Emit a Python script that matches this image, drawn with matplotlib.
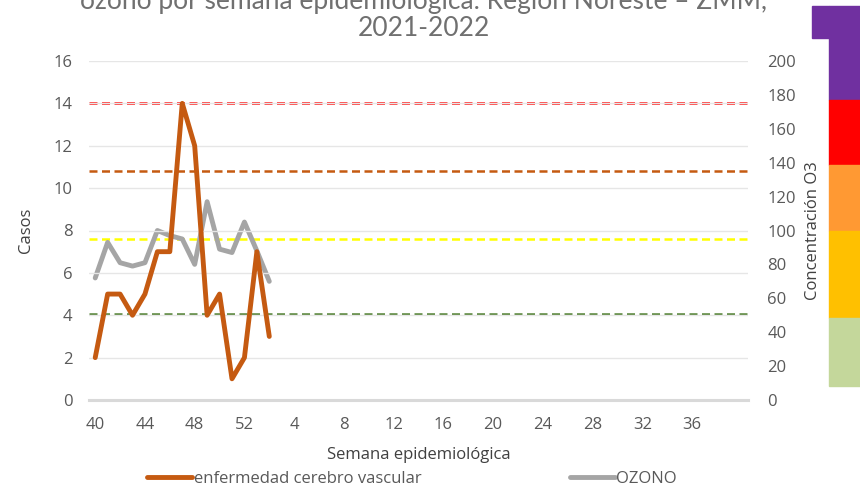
import matplotlib.pyplot as plt
from matplotlib.patches import Rectangle

# semanas epidemiologicas 40-52 de 2021 y 1-40 de 2022
semanas = list(range(40, 53)) + list(range(1, 41))
casos = [2, 5, 5, 4, 5, 7, 7, 14, 12, 4, 5, 1, 2, 7, 3]
ozono = [72, 93, 81, 79, 81, 100, 97, 95, 80, 117, 89, 87, 105, 88, 70]

# limites de calidad del aire (O3)
limites = [51, 95, 135, 175]
colores_lim = ['#548235', '#FFFF00', '#C55A11', '#FF0000']

# barra de colores a la derecha (arriba -> abajo)
barra_colores = ['#7030A0', '#FF0000', '#FF9933', '#FFC000', '#C4D79B']
barra_y = [6, 100, 165, 231, 318, 386]

plt.rcParams['font.family'] = ['Open Sans', 'DejaVu Sans']
gris = '#595959'

fig = plt.figure(figsize=(8.6, 4.91), dpi=100)
W, H = 860, 491

ax = fig.add_axes([89 / W, 1 - 400 / H, (748 - 89) / W, (400 - 61) / H])
ax2 = ax.twinx()

x = list(range(len(semanas)))
ax2.plot(x[:len(ozono)], ozono, color='#A5A5A5', lw=3.5, solid_joinstyle='round',
         solid_capstyle='round', label='OZONO', zorder=3)
for v, c in zip(limites, colores_lim):
    ax2.axhline(v, color=c, lw=1.8, ls=(0, (3.2, 1.8)), zorder=2)
ax.plot(x[:len(casos)], casos, color='#C55A11', lw=3.5, solid_joinstyle='round',
        solid_capstyle='round', label='enfermedad cerebro vascular', zorder=4)

ax.set_zorder(ax2.get_zorder() + 1)
ax.patch.set_visible(False)

ax.set_xlim(-0.5, len(semanas) - 0.5)
ax.set_ylim(0, 16)
ax.set_yticks(range(0, 17, 2))
ax2.set_ylim(0, 200)
ax2.set_yticks(range(0, 201, 20))
ax.set_xticks(x[:49:4])
ax.set_xticklabels([str(s) for s in semanas[:49:4]])

ax.grid(axis='y', color='#E6E6E6', lw=1)
ax.set_axisbelow(True)
for a in (ax, ax2):
    for s in a.spines.values():
        s.set_visible(False)
ax.spines['bottom'].set_visible(True)
ax.spines['bottom'].set_color('#D9D9D9')
ax.spines['bottom'].set_linewidth(2.2)

ax.tick_params(axis='x', length=0, pad=12, labelsize=12, labelcolor=gris)
ax.tick_params(axis='y', length=0, pad=12, labelsize=12, labelcolor=gris)
ax2.tick_params(axis='y', length=0, pad=14, labelsize=12, labelcolor=gris)

ax.set_xlabel('Semana epidemiológica', fontsize=12, color='#404040', labelpad=10)
ax.set_ylabel('Casos', fontsize=12, color='#404040', labelpad=14)
ax2.set_ylabel('Concentración O3', fontsize=12, color='#404040', labelpad=6)

h1, l1 = ax.get_legend_handles_labels()
h2, l2 = ax2.get_legend_handles_labels()
fig.legend(h1 + h2, l1 + l2, loc='center', bbox_to_anchor=(412 / W, 1 - 479 / H),
           ncol=2, frameon=False, fontsize=12, handlelength=2.7, handletextpad=0.1,
           columnspacing=8.9, labelcolor=gris)

# titulo (cortado arriba como en la imagen)
fig.text(424 / W, 1 - 2 / H, 'ozono por semana epidemiológica. Región Noreste – ZMM,',
         ha='center', va='center', fontsize=19, color='#707070', family='Lato')
fig.text(424 / W, 1 - 28 / H, '2021-2022', ha='center', va='center', fontsize=19,
         color='#707070', family='Lato')

# barra de colores
for i, c in enumerate(barra_colores):
    y0, y1 = barra_y[i], barra_y[i + 1]
    fig.patches.append(Rectangle((829 / W, 1 - y1 / H), (W - 829) / W, (y1 - y0) / H,
                                 transform=fig.transFigure, color=c, zorder=0))
fig.patches.append(Rectangle((812 / W, 1 - 38 / H), (829 - 812) / W, 32 / H,
                             transform=fig.transFigure, color=barra_colores[0], zorder=0))

fig.savefig('out.png', dpi=100)
